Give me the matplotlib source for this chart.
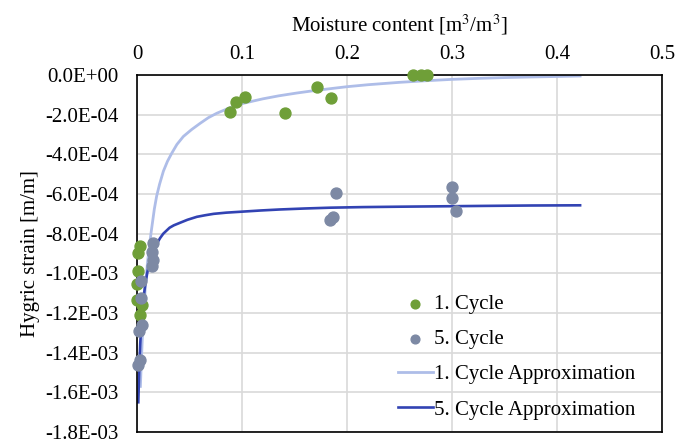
import matplotlib
matplotlib.use("Agg")
import matplotlib.pyplot as plt
import matplotlib.ticker as ticker
import numpy as np

plt.rcParams['font.family'] = ['Liberation Serif', 'DejaVu Serif']
plt.rcParams['mathtext.fontset'] = 'stix'

# measured points (moisture content, strain)
c1_x = [0.0886, 0.0943, 0.103, 0.141, 0.1717, 0.185, 0.263, 0.270, 0.276,
        0.003, 0.001, 0.001, 0.0, 0.0, 0.005, 0.003]
c1_y = [-1.85e-4, -1.35e-4, -1.09e-4, -1.90e-4, -0.62e-4, -1.18e-4, 0.0, 0.0, 0.0,
        -8.61e-4, -8.98e-4, -9.86e-4, -1.053e-3, -1.133e-3, -1.159e-3, -1.209e-3]

c5_x = [0.015, 0.014, 0.0155, 0.0146, 0.0035, 0.0035, 0.0045, 0.002, 0.003, 0.001,
        0.1895, 0.187, 0.184, 0.2997, 0.2997, 0.3035]
c5_y = [-8.48e-4, -8.90e-4, -9.35e-4, -9.62e-4, -1.041e-3, -1.125e-3, -1.26e-3,
        -1.29e-3, -1.436e-3, -1.461e-3,
        -5.93e-4, -7.18e-4, -7.30e-4, -5.63e-4, -6.18e-4, -6.87e-4]

# approximation curves
a1_x = [0.0032, 0.004, 0.005, 0.006, 0.008, 0.0102, 0.0117, 0.0135, 0.0165,
        0.0187, 0.0215, 0.0251, 0.029, 0.033, 0.038, 0.0441, 0.052, 0.060, 0.068,
        0.0759, 0.088, 0.0997, 0.110, 0.120, 0.135, 0.152, 0.167, 0.184, 0.20,
        0.22, 0.25, 0.275, 0.30, 0.325, 0.35, 0.375, 0.40, 0.422]
a1_y = [-15.7e-4, -14.6e-4, -13.3e-4, -12.3e-4, -10.6e-4, -9.33e-4, -8.66e-4,
        -7.9e-4, -6.75e-4, -6.1e-4, -5.5e-4, -4.85e-4, -4.35e-4, -3.95e-4, -3.5e-4,
        -3.1e-4, -2.75e-4, -2.44e-4, -2.15e-4, -1.93e-4, -1.66e-4, -1.45e-4, -1.32e-4,
        -1.20e-4, -1.05e-4, -0.91e-4, -0.80e-4, -0.69e-4, -0.59e-4, -0.49e-4, -0.37e-4,
        -0.29e-4, -0.22e-4, -0.17e-4, -0.13e-4, -0.10e-4, -0.075e-4, -0.05e-4]

a5_x = [0.0012, 0.002, 0.003, 0.004, 0.005, 0.0065, 0.008, 0.010, 0.012, 0.014,
        0.016, 0.018, 0.020, 0.022, 0.025, 0.028, 0.031, 0.035, 0.041, 0.048,
        0.057, 0.065, 0.073, 0.085, 0.100, 0.118, 0.136, 0.160, 0.184, 0.215,
        0.25, 0.29, 0.33, 0.375, 0.422]
a5_y = [-16.5e-4, -15.0e-4, -13.6e-4, -12.6e-4, -11.9e-4, -11.1e-4, -10.5e-4, -9.9e-4,
        -9.4e-4, -9.05e-4, -8.8e-4, -8.6e-4, -8.4e-4, -8.22e-4, -8.0e-4, -7.85e-4,
        -7.7e-4, -7.58e-4, -7.45e-4, -7.3e-4, -7.15e-4, -7.07e-4, -7.0e-4, -6.94e-4,
        -6.89e-4, -6.83e-4, -6.78e-4, -6.73e-4, -6.69e-4, -6.66e-4, -6.64e-4,
        -6.62e-4, -6.6e-4, -6.58e-4, -6.57e-4]

fig = plt.figure(figsize=(6.9, 4.43), dpi=100)
ax = fig.add_axes([0.1986, 0.0248, 0.7608, 0.8059])

ax.plot(a1_x, a1_y, color='#aebde8', lw=2.0, label='1. Cycle Approximation', zorder=2)
ax.plot(a5_x, a5_y, color='#3243b3', lw=1.9, label='5. Cycle Approximation', zorder=2)
ax.scatter(c1_x, c1_y, s=62, color='#6f9f38', label='1. Cycle', zorder=3, clip_on=False)
ax.scatter(c5_x, c5_y, s=62, color='#7d89a4', label='5. Cycle', zorder=3, clip_on=False)

ax.set_xlim(0, 0.5)
ax.set_ylim(-1.8e-3, 0)
ax.xaxis.set_major_locator(ticker.MultipleLocator(0.1))
ax.yaxis.set_major_locator(ticker.MultipleLocator(2e-4))
ax.xaxis.set_major_formatter(ticker.FuncFormatter(lambda v, p: "0" if abs(v) < 1e-9 else f"{v:g}"))
ax.yaxis.set_major_formatter(ticker.FuncFormatter(lambda v, p: f"{0.0 if abs(v) < 1e-12 else v:.1E}"))
ax.xaxis.tick_top()
ax.xaxis.set_label_position('top')
ax.tick_params(length=0, labelsize=15)
ax.tick_params(axis='x', pad=8)
ax.tick_params(axis='y', pad=13)
ax.grid(color='#d9d9d9', lw=1.2)
ax.set_axisbelow(True)
for s in ax.spines.values():
    s.set_linewidth(1.2)
    s.set_color('black')

ax.set_xlabel(r"Moisture content [m$^3$/m$^3$]", fontsize=15, labelpad=10)
ax.set_ylabel("Hygric strain [m/m]", fontsize=15, labelpad=4)

h, l = ax.get_legend_handles_labels()
order = [2, 3, 0, 1]
ax.legend([h[i] for i in order], [l[i] for i in order], frameon=False, fontsize=15,
          loc='lower right', bbox_to_anchor=(0.985, -0.018), handlelength=1.7,
          handletextpad=0.05, labelspacing=0.75, markerscale=0.8)

fig.savefig("out.png", dpi=100)
